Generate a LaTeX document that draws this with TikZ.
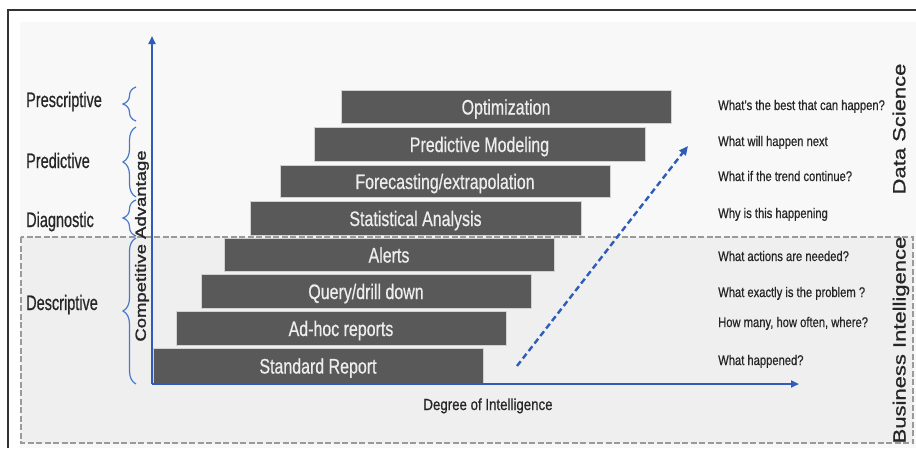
\documentclass[tikz,border=0pt]{standalone}
\usepackage{fontspec}
\setmainfont{Liberation Sans}[FakeBold=0.7]
\newfontfamily\heavyfont{Liberation Sans}[FakeBold=1.4]
\usetikzlibrary{decorations.pathreplacing,arrows.meta}
\definecolor{barfill}{HTML}{595959}
\definecolor{axisblue}{HTML}{2E5CB8}
\definecolor{bracecol}{HTML}{4A78C8}
\definecolor{txt}{HTML}{262626}
\definecolor{bgtop}{HTML}{F8F8F8}
\definecolor{bgbi}{HTML}{EFEFEF}
\definecolor{dashgray}{HTML}{9A9A9A}
\begin{document}
\begin{tikzpicture}[x=1pt,y=-1pt,
  bar/.style={draw=white!82!black, line width=0.8pt, fill=barfill,
    text=white!93!black, font=\fontsize{21}{21}\selectfont,
    inner sep=0pt, text height=16pt, text depth=0pt},
  leftlab/.style={text=txt, font=\fontsize{21}{21}\selectfont, inner sep=0pt, anchor=base west},
  question/.style={text=txt, font=\fontsize{14}{14}\selectfont, inner sep=0pt, anchor=base west},
  sidelab/.style={text=txt, font=\fontsize{22}{22}\selectfont, inner sep=0pt, rotate=90},
  bracestyle/.style={draw=bracecol, line width=1.2pt, decorate, decoration={brace, amplitude=13pt}},
  axis/.style={draw=axisblue, line width=2.2pt, -{Triangle[length=8pt,width=7pt]}},
  trend/.style={draw=axisblue, line width=2.4pt, dash pattern=on 6pt off 3.5pt, -{Triangle[length=9pt,width=8pt]}},
  bibox/.style={draw=dashgray, fill=bgbi, line width=1.8pt, dash pattern=on 6pt off 2.5pt}
]
\useasboundingbox (0,0) rectangle (916,448);
\fill[white] (0,0) rectangle (916,448);
\fill[bgtop] (20,22) rectangle (916,448);
\draw[black!80, line width=1.5pt] (8,448) -- (8,10) -- (916,10);
\draw[bibox] (21,237) rectangle (913,443);

% bars
\node[bar, minimum width=330pt, minimum height=33pt] (opt) at (506,106.5) {\scalebox{0.76}[1]{Optimization}};
\node[bar, minimum width=331pt, minimum height=34pt] (pm) at (479.5,144) {\scalebox{0.76}[1]{Predictive Modeling}};
\node[bar, minimum width=330pt, minimum height=32pt] (fe) at (445,181) {\scalebox{0.76}[1]{Forecasting/extrapolation}};
\node[bar, minimum width=331pt, minimum height=34pt] (sa) at (415.5,218) {\scalebox{0.76}[1]{Statistical Analysis}};
\node[bar, minimum width=330pt, minimum height=33pt] (al) at (389,254.5) {\scalebox{0.76}[1]{Alerts}};
\node[bar, minimum width=330pt, minimum height=34pt] (qd) at (366,291) {\scalebox{0.76}[1]{Query/drill down}};
\node[bar, minimum width=330pt, minimum height=34pt] (ah) at (341,328) {\scalebox{0.76}[1]{Ad-hoc reports}};
\node[bar, minimum width=330pt, minimum height=35pt] (sr) at (318,365.5) {\scalebox{0.76}[1]{Standard Report}};

% axes
\coordinate (O) at (152,384);
\coordinate (ytop) at (152,36);
\coordinate (xend) at (799,384);
\draw[axis] (O) -- (ytop);
\draw[axis] (O) -- (xend);

% trend arrow
\coordinate (tA) at (517,366);
\coordinate (tB) at (688,146);
\draw[trend] (tA) -- (tB);

% braces
\coordinate (b1a) at (136,121); \coordinate (b1b) at (136,87);
\coordinate (b2a) at (136,197); \coordinate (b2b) at (136,127);
\coordinate (b3a) at (136,236); \coordinate (b3b) at (136,200);
\coordinate (b4a) at (136,384); \coordinate (b4b) at (136,238);
\draw[bracestyle] (b1a) -- (b1b);
\draw[bracestyle] (b2a) -- (b2b);
\draw[bracestyle] (b3a) -- (b3b);
\draw[bracestyle] (b4a) -- (b4b);

% left labels
\node[leftlab] (lpre) at (26,107) {\scalebox{0.69}[1]{Prescriptive}};
\node[leftlab] (lpred) at (26,168) {\scalebox{0.69}[1]{Predictive}};
\node[leftlab] (ldiag) at (26,227) {\scalebox{0.69}[1]{Diagnostic}};
\node[leftlab] (ldesc) at (26,310) {\scalebox{0.69}[1]{Descriptive}};

% axis labels
\node[text=txt, font=\heavyfont\fontsize{18.5}{18.5}\selectfont, inner sep=0pt, rotate=90] (ca) at (142,246) {\scalebox{1}[0.8]{Competitive Advantage}};
\node[text=txt, font=\fontsize{16}{16}\selectfont, inner sep=0pt, anchor=base] (doi) at (488,410) {\scalebox{0.83}[1]{Degree of Intelligence}};

% questions
\node[question] (q1) at (718,110) {\scalebox{0.8}[1]{What's the best that can happen?}};
\node[question] (q2) at (718,146) {\scalebox{0.8}[1]{What will happen next}};
\node[question] (q3) at (718,181) {\scalebox{0.8}[1]{What if the trend continue?}};
\node[question] (q4) at (718,218) {\scalebox{0.8}[1]{Why is this happening}};
\node[question] (q5) at (718,261) {\scalebox{0.8}[1]{What actions are needed?}};
\node[question] (q6) at (718,297) {\scalebox{0.8}[1]{What exactly is the problem ?}};
\node[question] (q7) at (718,327) {\scalebox{0.8}[1]{How many, how often, where?}};
\node[question] (q8) at (718,365) {\scalebox{0.8}[1]{What happened?}};

% side labels
\node[sidelab] (ds) at (899,129) {\scalebox{1}[0.8]{Data Science}};
\node[sidelab] (bi) at (901,340) {\scalebox{1}[0.8]{Business Intelligence}};
\end{tikzpicture}
\end{document}
